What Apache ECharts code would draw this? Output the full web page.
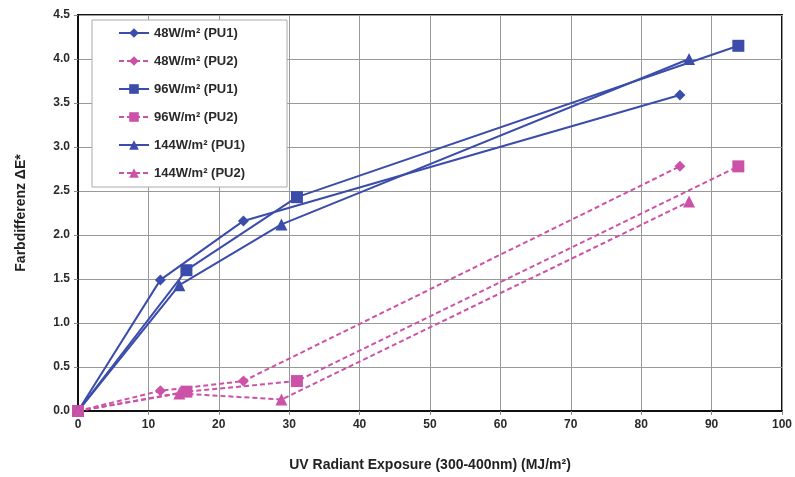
<!DOCTYPE html>
<html><head><meta charset="utf-8">
<script src="https://cdn.jsdelivr.net/npm/echarts@6/dist/echarts.min.js"></script>
<style>html,body{margin:0;padding:0;background:#fff}#c{width:795px;height:477px}</style>
</head><body><div id="c"></div>
<script>
const xTicks = [0,10,20,30,40,50,60,70,80,90,100];
const names = ['48W/m² (PU1)','48W/m² (PU2)','96W/m² (PU1)','96W/m² (PU2)','144W/m² (PU1)','144W/m² (PU2)'];
const x48 = [0, 11.7, 23.5, 85.5];
const x96 = [0, 15.4, 31.1, 93.8];
const x144 = [0, 14.4, 28.9, 86.8];
const y48pu1 = [0, 1.49, 2.16, 3.59];
const y48pu2 = [0, 0.23, 0.34, 2.78];
const y96pu1 = [0, 1.60, 2.43, 4.15];
const y96pu2 = [0, 0.22, 0.34, 2.78];
const y144pu1 = [0, 1.43, 2.12, 4.00];
const y144pu2 = [0, 0.20, 0.13, 2.38];

const BLUE = '#3b4cab', PINK = '#cc52a8';
const pair = (xs, ys) => xs.map((x,i)=>[x, ys[i]]);
function mk(name, xs, ys, color, dashed, symbol, size){
  return {name, type:'line', data: pair(xs, ys), symbol, symbolSize:size,
    showAllSymbol:true,
    lineStyle:{color, width:2, type: dashed ? [5,3] : 'solid'},
    itemStyle:{color, borderWidth:0}, emphasis:{disabled:true}, animation:false};
}
const chart = echarts.init(document.getElementById('c'));
const lab = {fontFamily:'Liberation Sans, Arial, sans-serif', fontWeight:'bold', color:'#2a2a2a', fontSize:12};
chart.setOption({
  animation:false,
  backgroundColor:'#fff',
  grid:{left:78, right:13, top:15, bottom:66, show:true, borderColor:'#111', borderWidth:2},
  legend:{orient:'vertical', left:92, top:20, backgroundColor:'#fff', borderColor:'#aaa', borderWidth:1,
    padding:[6,42,7,26], itemGap:14, itemWidth:30, itemHeight:12,
    textStyle:{fontFamily:'Liberation Sans, Arial, sans-serif', fontWeight:'bold', fontSize:13, color:'#2a2a2a', lineHeight:14},
    data:names},
  xAxis:{type:'value', min:0, max:100, interval:10,
    name:'UV Radiant Exposure (300-400nm) (MJ/m²)', nameLocation:'middle', nameGap:47,
    nameTextStyle:{fontFamily:'Liberation Sans, Arial, sans-serif', fontWeight:'bold', fontSize:14, color:'#222'},
    axisLine:{show:true, lineStyle:{color:'#111', width:2}},
    axisTick:{show:true, length:4, lineStyle:{color:'#888'}},
    axisLabel:Object.assign({margin:8, formatter:v=>xTicks.includes(v)?String(v):''}, lab),
    splitLine:{show:true, lineStyle:{color:'#999', width:1}}},
  yAxis:{type:'value', min:0, max:4.5, interval:0.5,
    name:'Farbdifferenz ΔE*', nameLocation:'middle', nameGap:50,
    nameTextStyle:{fontFamily:'Liberation Sans, Arial, sans-serif', fontWeight:'bold', fontSize:14, color:'#222'},
    axisLine:{show:true, lineStyle:{color:'#111', width:2}},
    axisTick:{show:true, length:4, lineStyle:{color:'#888'}},
    axisLabel:Object.assign({margin:8, formatter:v=>v.toFixed(1)}, lab),
    splitLine:{show:true, lineStyle:{color:'#999', width:1}}},
  series:[
    mk(names[0], x48, y48pu1, BLUE, false, 'diamond', 11),
    mk(names[1], x48, y48pu2, PINK, true, 'diamond', 11),
    mk(names[2], x96, y96pu1, BLUE, false, 'rect', 12),
    mk(names[3], x96, y96pu2, PINK, true, 'rect', 12),
    mk(names[4], x144, y144pu1, BLUE, false, 'triangle', 12),
    mk(names[5], x144, y144pu2, PINK, true, 'triangle', 12)
  ]
});
</script></body></html>
